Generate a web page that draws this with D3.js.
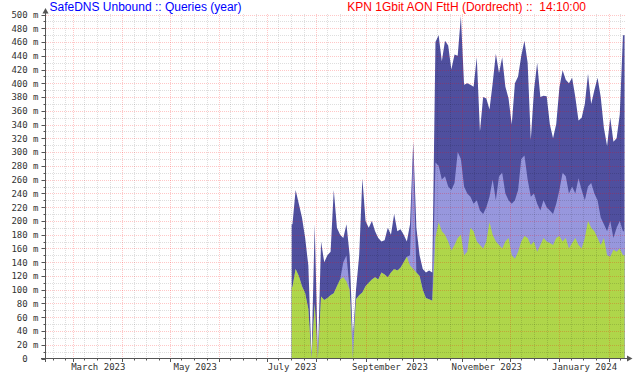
<!DOCTYPE html>
<html><head><meta charset="utf-8">
<script src="https://cdn.jsdelivr.net/npm/d3@7"></script>
<style>body{margin:0;background:#fff} svg{display:block}</style>
</head><body><svg id="c" width="640" height="380"></svg>
<script>
// ---- data (values in milli-queries per second, one value per 2 days) ----
const startDate = "2023-07-17T00:00";
const stepDays = 2;
const totalQueries = [195,245,225,205,175,135,null,195,null,170,140,150,155,245,190,180,175,195,150,28,
  100,150,262,200,190,200,185,175,170,172,190,180,210,185,188,180,170,195,315,190,150,130,125,128,125,
  460,470,432,462,455,420,442,440,498,398,400,398,395,438,330,380,378,362,400,443,415,438,395,378,340,
  400,410,440,462,430,318,390,430,380,382,381,340,320,341,394,419,405,400,408,380,346,350,370,414,370,
  390,408,380,335,309,350,315,320,355,470];
const midQueries = [104,130,120,105,95,72,null,80,null,90,85,88,92,95,105,115,140,150,100,28,
  86,92,96,105,110,115,118,115,125,122,118,125,130,128,132,140,148,150,300,125,120,100,88,86,84,
  285,280,260,265,250,245,255,300,290,250,240,235,225,230,215,210,220,235,260,230,265,270,240,230,225,
  230,245,290,295,260,235,240,225,215,230,220,215,210,225,245,270,265,240,250,240,262,245,230,250,255,
  240,230,205,195,185,200,175,190,200,185];
const cacheHits = [104,130,120,105,95,72,null,80,null,90,85,88,92,95,105,115,118,112,100,0,
  86,92,96,105,110,115,118,115,125,122,118,125,130,128,132,140,148,135,130,125,120,100,88,86,84,
  176,198,185,180,170,157,165,175,180,150,155,190,185,170,165,160,170,198,180,170,165,160,170,175,150,
  145,155,170,178,175,165,170,155,165,175,170,168,165,175,178,170,175,160,168,175,165,160,175,200,190,
  185,175,165,175,150,148,158,155,160,150];
const yTickValues = [0,20,40,60,80,100,120,140,160,180,200,220,240,260,280,300,320,340,360,380,400,420,440,460,480,500];
const xLabelMonths = ["2023-03","2023-05","2023-07","2023-09","2023-11","2024-01"];
const titleLeft = "SafeDNS Unbound :: Queries (year)";
const titleRight = "KPN 1Gbit AON FttH (Dordrecht) ::  14:10:00";

// ---- scales ----
const x = d3.scaleTime()
  .domain([new Date(2023,1,11,14,10), new Date(2024,1,11,14,10)])
  .range([45.5, 625.5]);
const y = d3.scaleLinear().domain([0,500]).range([358.5,14.5]);

const svg = d3.select("#c");
svg.append("rect").attr("width",640).attr("height",380).attr("fill","#fff");

const t0 = d3.timeParse("%Y-%m-%dT%H:%M")(startDate);
const dates = totalQueries.map((_,i)=>d3.timeDay.offset(t0, i*stepDays));
function pts(arr){
  const p = arr.map((v,i)=>({d:dates[i], v: v==null?0:v}));
  // close the last sample's interval at the right edge of the data
  p.push({d:d3.timeDay.offset(dates[dates.length-1], 1), v:p[p.length-1].v});
  // start edge
  p.unshift({d:d3.timeHour.offset(dates[0], -12), v:p[0].v});
  return p;
}
const area = d3.area().curve(d3.curveLinear)
  .x(p=>x(p.d)).y0(y(0)).y1(p=>y(p.v));

const g = svg.append("g");
g.append("path").attr("d", area(pts(totalQueries))).attr("fill","#4f4f9e");
g.append("path").attr("d", area(pts(midQueries))).attr("fill","#9797dd");
g.append("path").attr("d", area(pts(cacheHits))).attr("fill","#afd64a");

// ---- grid ----
const grid = svg.append("g");
const [xd0, xd1] = x.domain();
const months = d3.timeMonth.range(xd0, xd1);
const minorDays = [];
d3.timeMonth.range(d3.timeMonth.floor(xd0), xd1).forEach(m=>{
  [7,15,23].forEach(k=>{ const d=d3.timeDay.offset(m,k); if(d>xd0 && d<xd1) minorDays.push(d); });
});
const px = v => Math.round(v)+0.5;
d3.range(10,500,20).forEach(v=>{
  grid.append("line").attr("x1",46).attr("x2",625).attr("y1",px(y(v))).attr("y2",px(y(v)))
    .attr("stroke","rgba(0,0,0,0.13)").attr("stroke-dasharray","1,1");
});
minorDays.forEach(d=>{
  grid.append("line").attr("x1",px(x(d))).attr("x2",px(x(d))).attr("y1",14).attr("y2",358)
    .attr("stroke","rgba(0,0,0,0.13)").attr("stroke-dasharray","1,1");
});
yTickValues.filter(v=>v>0).forEach(v=>{
  grid.append("line").attr("x1",46).attr("x2",625).attr("y1",px(y(v))).attr("y2",px(y(v)))
    .attr("stroke","rgba(255,0,0,0.22)").attr("stroke-dasharray","1,1");
});
months.forEach(d=>{
  grid.append("line").attr("x1",px(x(d))).attr("x2",px(x(d))).attr("y1",14).attr("y2",358)
    .attr("stroke","rgba(255,0,0,0.22)").attr("stroke-dasharray","1,1");
});

// ---- axes ----
const axisCol = "#555";
const ax = svg.append("g");
yTickValues.forEach(v=>{
  ax.append("line").attr("x1",41.5).attr("x2",45.5).attr("y1",px(y(v))).attr("y2",px(y(v))).attr("stroke",axisCol);
});
d3.range(10,500,20).forEach(v=>{
  ax.append("line").attr("x1",43.5).attr("x2",45.5).attr("y1",px(y(v))).attr("y2",px(y(v))).attr("stroke",axisCol);
});
months.forEach(d=>{
  ax.append("line").attr("x1",px(x(d))).attr("x2",px(x(d))).attr("y1",358.5).attr("y2",362).attr("stroke",axisCol);
});
minorDays.forEach(d=>{
  ax.append("line").attr("x1",px(x(d))).attr("x2",px(x(d))).attr("y1",358.5).attr("y2",360.5).attr("stroke",axisCol);
});
ax.append("line").attr("x1",45.5).attr("x2",45.5).attr("y1",362).attr("y2",12).attr("stroke",axisCol);
ax.append("line").attr("x1",41).attr("x2",628).attr("y1",358.5).attr("y2",358.5).attr("stroke",axisCol);
ax.append("path").attr("d","M42.5,13.5L48.5,13.5L45.5,8Z").attr("fill",axisCol);
ax.append("path").attr("d","M627,355.5L627,361.5L632.5,358.5Z").attr("fill",axisCol);

const yAxis = d3.axisLeft(y).tickValues(yTickValues).tickSize(0).tickPadding(7)
  .tickFormat(v => v===0 ? "0" : v + " m");
const ya = svg.append("g").attr("transform","translate(45.5,0)").call(yAxis);
ya.select(".domain").remove();
ya.selectAll("text").attr("font-family","'DejaVu Sans Mono', monospace").attr("font-size",9)
  .attr("fill","#333")
  .attr("x", d => d===0 ? -17.8 : -7);

const parseM = d3.timeParse("%Y-%m");
const labelDates = xLabelMonths.map(s=>{
  const m = parseM(s); const n = d3.timeMonth.offset(m,1);
  return new Date((+m + +n)/2);
});
const xAxis = d3.axisBottom(x).tickValues(labelDates).tickSize(0)
  .tickFormat(d3.timeFormat("%B %Y"));
const xa = svg.append("g").attr("transform","translate(0,358.5)").call(xAxis);
xa.select(".domain").remove();
xa.selectAll("text").attr("font-family","'DejaVu Sans Mono', monospace").attr("font-size",9)
  .attr("fill","#333").attr("y",11.5).attr("dy",0);

svg.append("text").attr("x",49.5).attr("y",11).attr("font-family","'Liberation Sans', Arial, sans-serif")
  .attr("font-size",12).attr("fill","#0000ff").text(titleLeft);
svg.append("text").attr("x",586).attr("y",11).attr("text-anchor","end")
  .attr("font-family","'Liberation Sans', Arial, sans-serif").style("white-space","pre")
  .attr("font-size",12).attr("fill","#ff0000").text(titleRight);
</script></body></html>
